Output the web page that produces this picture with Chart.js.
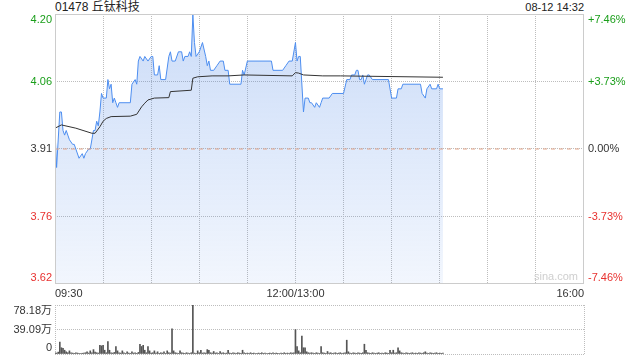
<!DOCTYPE html>
<html>
<head>
<meta charset="utf-8">
<script src="https://cdn.jsdelivr.net/npm/chart.js@4/dist/chart.umd.min.js"></script>
<style>
    html, body { margin: 0; padding: 0; background: #fff; }
    #wrap { position: relative; width: 640px; height: 360px; overflow: hidden;
            font-family: "Liberation Sans", "Noto Sans CJK SC", sans-serif; }
    #priceChart { position: absolute; left: 0; top: 0; }
    #volumeChart { position: absolute; left: 0; top: 300px; }
    .hdr { position: absolute; top: 0; line-height: 14px; color: #222; white-space: nowrap; }
</style>
</head>
<body>
<div id="wrap">
    <div class="hdr" style="left:55px; font-size:12px;">01478 丘钛科技</div>
    <div class="hdr" style="right:56px; font-size:11px;">08-12 14:32</div>
    <canvas id="priceChart" width="640" height="300"></canvas>
    <canvas id="volumeChart" width="640" height="60"></canvas>
</div>
<script>
// minutes since 09:30 (lunch break removed, 12:00 == 13:00 == 150)
var prevClose = 3.91;

var priceTimes = [0, 1, 3, 4, 5, 6, 7, 8, 9, 11, 12, 13, 15, 17, 18, 19, 21, 22, 24, 25,
    26, 27, 28, 29, 30, 32, 33, 34, 35, 36, 37, 38, 39, 40, 47, 48, 50, 51, 52, 53,
    55, 56, 58, 60, 61, 62, 64, 65, 66, 69, 71, 72, 73, 75, 77, 79, 80, 81, 83, 84,
    85, 86, 87, 88, 90, 92, 94, 95, 96, 97, 99, 101, 103, 105, 106, 108, 109, 116, 117, 118,
    120, 135, 136, 142, 144, 146, 148, 150, 151, 152, 153, 155, 156, 158, 159, 160, 162, 163, 165, 166,
    167, 171, 173, 180, 182, 184, 185, 187, 188, 189, 190, 191, 192, 193, 194, 195, 196, 198, 208, 210,
    213, 214, 216, 217, 228, 229, 231, 232, 234, 235, 238, 239, 240, 242];
var prices = [3.95, 3.87, 3.99, 3.99, 3.95, 3.94, 3.95, 3.94, 3.93, 3.92, 3.92, 3.91, 3.89, 3.90, 3.89, 3.90, 3.91, 3.91, 3.95, 3.95,
    3.97, 3.96, 3.99, 4.03, 4.02, 4.02, 4.06, 4.04, 4.05, 4.01, 4.02, 4.01, 4.00, 4.01, 4.01, 4.05, 4.06, 4.05, 4.10, 4.11,
    4.10, 4.11, 4.10, 4.11, 4.11, 4.07, 4.07, 4.09, 4.06, 4.06, 4.11, 4.12, 4.10, 4.10, 4.12, 4.12, 4.10, 4.11, 4.11, 4.12,
    4.11, 4.20, 4.14, 4.11, 4.12, 4.14, 4.11, 4.09, 4.10, 4.08, 4.08, 4.09, 4.10, 4.10, 4.08, 4.08, 4.05, 4.05, 4.08, 4.07,
    4.10, 4.10, 4.08, 4.08, 4.09, 4.10, 4.10, 4.14, 4.10, 4.11, 4.11, 3.99, 4.02, 4.02, 4.01, 4.01, 4.00, 4.01, 4.00, 4.01,
    4.02, 4.02, 4.03, 4.03, 4.06, 4.06, 4.07, 4.07, 4.08, 4.08, 4.06, 4.06, 4.07, 4.05, 4.06, 4.07, 4.07, 4.06, 4.06, 4.02,
    4.02, 4.04, 4.04, 4.05, 4.05, 4.03, 4.02, 4.04, 4.05, 4.04, 4.04, 4.05, 4.04, 4.04];

var avgTimes = [0, 4, 13, 23, 25, 28, 30, 32, 35, 47, 51, 54, 56, 58, 62, 71, 72, 85, 86, 89,
    98, 108, 118, 148, 150, 152, 155, 167, 178, 242];
var avgPrices = [3.955, 3.962, 3.955, 3.944, 3.944, 3.958, 3.970, 3.976, 3.980, 3.981, 3.985, 4.001, 4.009, 4.016, 4.020, 4.021, 4.034, 4.037, 4.063, 4.066,
    4.068, 4.068, 4.070, 4.068, 4.075, 4.074, 4.070, 4.068, 4.068, 4.065];

// volume per minute, in 万
var volumes = [
    2, 1.5, 3, 19, 10, 9, 6, 3.5, 2, 5,
    2, 1.5, 1, 2, 1.5, 1, 0.8, 1.2, 1.5, 2,
    3.5, 1.5, 5, 2, 7, 3, 2, 1.5, 14, 13,
    14, 6, 2, 20, 6, 2, 1.5, 2.5, 12, 5,
    2, 1.5, 5, 2, 1, 3.5, 1.5, 1, 3.5, 1.5,
    2, 1, 2.5, 15.6, 12, 14, 6, 2, 12, 5,
    1.5, 2, 5, 1.5, 3.5, 1, 2, 1.5, 3.5, 1,
    5, 2, 1.5, 40, 5, 2, 1.5, 1, 5, 2,
    1.5, 1, 2, 1.5, 1, 2, 78.18, 1.5, 1, 5,
    2, 6, 1.5, 2, 1.5, 7, 6, 2, 1.5, 4,
    1.5, 2, 1, 4, 1.5, 2, 1, 1.5, 6, 1.5,
    1, 2, 1.5, 1, 2, 1.5, 1, 6, 2, 1,
    1.5, 1, 2, 1, 1.5, 0.8, 1, 1.5, 1, 2,
    1, 1.5, 0.8, 1, 1.5, 1, 2, 1, 1.5, 1,
    0.8, 1.5, 1, 2, 1, 1.5, 1, 2, 1.5, 2,
    39, 12, 5, 2, 28.6, 10, 10, 3.5, 2, 1.5,
    2, 1.5, 1, 2, 1.5, 1, 12, 2, 1.5, 1,
    4, 1.5, 2, 1, 1.5, 2, 1, 1.5, 2, 1,
    1.5, 2, 22, 3.5, 1.5, 1, 2, 1.5, 1, 2,
    1.5, 1, 2, 15.6, 6, 2, 1.5, 1, 2, 1.5,
    1, 1.5, 2, 1, 1.5, 1, 2, 1.5, 1, 6,
    2, 6, 1.5, 2, 10, 5, 2, 1.5, 1, 2,
    1.5, 1, 1.5, 2, 1, 1.5, 1, 2, 1.5, 1,
    2, 3.5, 1.5, 1, 2, 1.5, 1, 1.5, 2, 1,
    1.5, 1, 1.5
];

var timeTicks = [0, 30, 60, 90, 120, 150, 180, 210, 240, 270, 300, 330];
var timeLabelMinutes = [0, 150, 330];
var timeLabels = ['09:30', '12:00/13:00', '16:00'];

var priceTicks = [4.2017, 4.0558, 3.91, 3.7642, 3.6183];
var priceLabels = ['4.20', '4.06', '3.91', '3.76', '3.62'];
var pctLabels = ['+7.46%', '+3.73%', '0.00%', '-3.73%', '-7.46%'];

var volumeTicks = [78.18, 39.09, 0];
var volumeLabels = ['78.18万', '39.09万', '0'];

var FONT = '"Liberation Sans", "Noto Sans CJK SC", sans-serif';
var GRID = '#bdbdbd';

function tickColor(i) {
    'use strict';
    if (i < 2) { return '#1a9e1a'; }
    if (i > 2) { return '#e8312f'; }
    return '#333333';
}

function toPoints(xs, ys) {
    'use strict';
    return xs.map(function(x, i) { return {x: x, y: ys[i]}; });
}

var priceLabelPlugin = {
    id: 'priceLabels',
    afterDraw: function(chart) {
        'use strict';
        var ctx = chart.ctx;
        var area = chart.chartArea;
        var yScale = chart.scales.y;
        var last = priceTicks.length - 1;

        ctx.save();
        ctx.strokeStyle = '#cccccc';
        ctx.lineWidth = 1;
        ctx.strokeRect(area.left + 0.5, area.top + 0.5, area.right - area.left - 1, area.bottom - area.top - 1);

        ctx.font = '11px ' + FONT;
        ctx.textBaseline = 'middle';
        priceTicks.forEach(function(v, i) {
            var py = yScale.getPixelForValue(v);
            if (i === 0) { py += 6; }
            if (i === last) { py -= 6; }
            ctx.fillStyle = tickColor(i);
            ctx.textAlign = 'right';
            ctx.fillText(priceLabels[i], area.left - 3, py);
            ctx.textAlign = 'left';
            ctx.fillText(pctLabels[i], area.right + 4, py);
        });

        ctx.fillStyle = '#cfcfcf';
        ctx.textAlign = 'right';
        ctx.fillText('sina.com', area.right - 6, area.bottom - 7);
        ctx.restore();
    }
};

var volumeLabelPlugin = {
    id: 'volumeLabels',
    afterDraw: function(chart) {
        'use strict';
        var ctx = chart.ctx;
        var area = chart.chartArea;
        var yScale = chart.scales.y;
        var last = volumeTicks.length - 1;

        ctx.save();
        ctx.font = '11px ' + FONT;
        ctx.textBaseline = 'middle';
        ctx.textAlign = 'right';
        ctx.fillStyle = '#333333';
        volumeTicks.forEach(function(v, i) {
            var py = yScale.getPixelForValue(v);
            if (i === 0) { py += 6; }
            if (i === last) { py -= 6; }
            ctx.fillText(volumeLabels[i], area.left - 3, py);
        });
        ctx.restore();
    }
};

function drawPriceChart() {
    'use strict';

    var ctx = document.getElementById('priceChart').getContext('2d');
    new Chart(ctx, {
        type: 'line',
        data: {
            datasets: [{
                label: 'prev close',
                data: [{x: 0, y: prevClose}, {x: 330, y: prevClose}],
                borderColor: '#e3a68a',
                borderWidth: 1,
                borderDash: [4, 4],
                pointRadius: 0,
                fill: false
            }, {
                label: 'average',
                data: toPoints(avgTimes, avgPrices),
                borderColor: '#333333',
                borderWidth: 1,
                pointRadius: 0,
                tension: 0,
                fill: false
            }, {
                label: 'price',
                data: toPoints(priceTimes, prices),
                borderColor: '#4d8ef0',
                borderWidth: 1,
                pointRadius: 0,
                tension: 0,
                fill: 'start',
                backgroundColor: function(context) {
                    var area = context.chart.chartArea;
                    if (!area) { return 'rgba(70,130,230,0.2)'; }
                    var g = context.chart.ctx.createLinearGradient(0, area.top, 0, area.bottom);
                    g.addColorStop(0, 'rgba(70,130,230,0.28)');
                    g.addColorStop(1, 'rgba(70,130,230,0.07)');
                    return g;
                }
            }]
        },
        options: {
            responsive: false,
            animation: false,
            layout: { padding: { top: 14, right: 56, left: 0, bottom: 0 } },
            plugins: { legend: { display: false }, tooltip: { enabled: false } },
            scales: {
                x: {
                    type: 'linear',
                    min: 0,
                    max: 330,
                    afterBuildTicks: function(s) {
                        s.ticks = timeTicks.map(function(v) { return {value: v}; });
                    },
                    afterFit: function(s) { s.height = 16; },
                    ticks: {
                        autoSkip: false,
                        maxRotation: 0,
                        align: 'inner',
                        padding: 3,
                        color: '#333333',
                        font: { family: FONT, size: 11 },
                        callback: function(value) {
                            var i = timeLabelMinutes.indexOf(value);
                            return i >= 0 ? timeLabels[i] : '';
                        }
                    },
                    grid: {
                        drawTicks: false,
                        lineWidth: 1,
                        color: function(c) {
                            var v = c.tick ? c.tick.value : -1;
                            return (v === 0 || v === 330) ? 'rgba(0,0,0,0)' : GRID;
                        }
                    },
                    border: { display: false, dash: [1, 1] }
                },
                y: {
                    type: 'linear',
                    min: 3.6183,
                    max: 4.2017,
                    afterBuildTicks: function(s) {
                        s.ticks = priceTicks.map(function(v) { return {value: v}; });
                    },
                    afterFit: function(s) { s.width = 55; },
                    ticks: { display: false },
                    grid: {
                        drawTicks: false,
                        lineWidth: 1,
                        color: function(c) {
                            var v = c.tick ? c.tick.value : -1;
                            return (v === 4.2017 || v === 3.6183) ? 'rgba(0,0,0,0)' : GRID;
                        }
                    },
                    border: { display: false, dash: [1, 1] }
                }
            }
        },
        plugins: [priceLabelPlugin]
    });
}

function drawVolumeChart() {
    'use strict';

    var ctx = document.getElementById('volumeChart').getContext('2d');
    new Chart(ctx, {
        type: 'bar',
        data: {
            datasets: [{
                label: 'volume',
                data: volumes.map(function(v, i) { return {x: i, y: v}; }),
                backgroundColor: '#555555',
                barThickness: 1
            }]
        },
        options: {
            responsive: false,
            animation: false,
            layout: { padding: { top: 5, right: 56, left: 0, bottom: 6 } },
            plugins: { legend: { display: false }, tooltip: { enabled: false } },
            scales: {
                x: {
                    type: 'linear',
                    min: 0,
                    max: 330,
                    offset: false,
                    afterBuildTicks: function(s) {
                        s.ticks = [{value: 0}, {value: 330}];
                    },
                    afterFit: function(s) { s.height = 0; },
                    ticks: { display: false },
                    grid: { offset: false, drawTicks: false, color: GRID, lineWidth: 1 },
                    border: { display: false, dash: [1, 1] }
                },
                y: {
                    type: 'linear',
                    min: 0,
                    max: 78.18,
                    afterBuildTicks: function(s) {
                        s.ticks = volumeTicks.map(function(v) { return {value: v}; });
                    },
                    afterFit: function(s) { s.width = 55; },
                    ticks: { display: false },
                    grid: { drawTicks: false, color: GRID, lineWidth: 1 },
                    border: { display: false, dash: [1, 1] }
                }
            }
        },
        plugins: [volumeLabelPlugin]
    });
}

drawPriceChart();
drawVolumeChart();
</script>
</body>
</html>
